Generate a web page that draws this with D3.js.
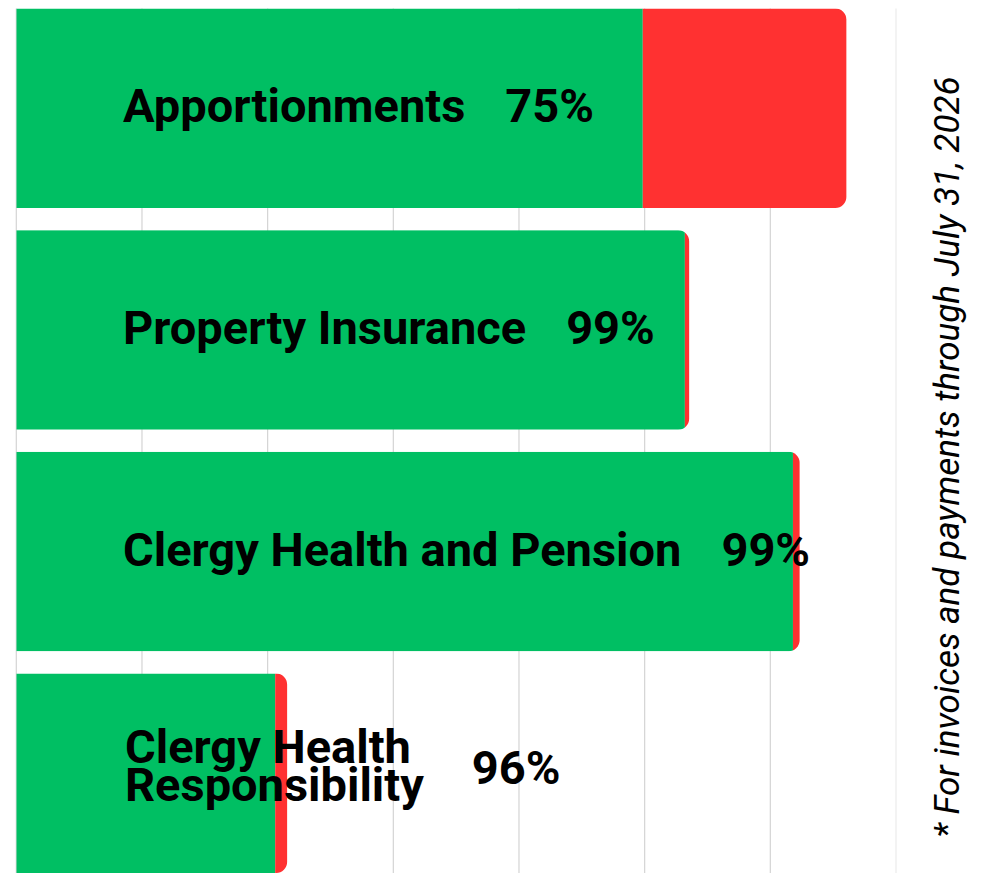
<!DOCTYPE html>
<html>
<head>
<meta charset="utf-8">
<script src="https://cdn.jsdelivr.net/npm/d3@7"></script>
<style>
  body { margin: 0; background: #fff; }
  svg { display: block; font-family: Roboto, sans-serif; }
</style>
</head>
<body>
<script>
// amounts in millions
const categories = ["Apportionments", "Property Insurance", "Clergy Health and Pension", "Clergy Health\nResponsibility"];
const paid = [4.985, 5.32, 6.18, 2.06];
const unpaid = [1.62, 0.034, 0.053, 0.095];
const xTicks = [0, 1, 2, 3, 4, 5, 6, 7];
const footnote = "* For invoices and payments through July 31, 2026";

const w = 989, h = 891;
const svg = d3.select("body").append("svg").attr("width", w).attr("height", h);

const x = d3.scaleLinear().domain([0, 7]).range([16.3, 896]);
const y = d3.scaleBand().domain(categories).range([8.5, 873]).paddingInner(0.1).paddingOuter(0);

// grid
svg.append("g").selectAll("line")
   .data(xTicks)
   .enter().append("line")
   .attr("x1", d => x(d)).attr("x2", d => x(d))
   .attr("y1", 8.5).attr("y2", 873)
   .attr("stroke", d => d === 7 ? "#ebebeb" : "#d4d4d4")
   .attr("stroke-width", 1.2);

const rows = categories.map((c, i) => ({name: c, paid: paid[i], unpaid: unpaid[i], i: i}));

// rounded right end for each whole bar
function barPath(x0, x1, y0, hgt, r) {
  return `M${x0},${y0}H${x1 - r}A${r},${r} 0 0 1 ${x1},${y0 + r}V${y0 + hgt - r}A${r},${r} 0 0 1 ${x1 - r},${y0 + hgt}H${x0}Z`;
}
const defs = svg.append("defs");
rows.forEach(d => {
  defs.append("clipPath").attr("id", "clip" + d.i)
      .append("path")
      .attr("d", barPath(x(0), x(d.paid + d.unpaid), y(d.name), y.bandwidth(), 11));
});

const bars = svg.append("g").selectAll("g")
   .data(rows)
   .enter().append("g")
   .attr("clip-path", d => "url(#clip" + d.i + ")");
bars.append("rect")
   .attr("x", x(0)).attr("y", d => y(d.name))
   .attr("width", d => x(d.paid) - x(0))
   .attr("height", y.bandwidth())
   .attr("fill", "#00bf63");
bars.append("rect")
   .attr("x", d => x(d.paid)).attr("y", d => y(d.name))
   .attr("width", d => x(d.paid + d.unpaid) - x(d.paid) + 1)
   .attr("height", y.bandwidth())
   .attr("fill", "#ff3131");

// labels
const fs = 47;
const lx = 123;
const labels = svg.append("g").selectAll("g")
   .data(rows)
   .enter().append("g");
labels.each(function(d) {
  const g = d3.select(this);
  const lines = d.name.split("\n");
  const multi = lines.length > 1;
  const cy = y(d.name) + y.bandwidth() / 2;
  const lh = 38;
  const t = g.append("text")
     .attr("font-size", fs).attr("font-weight", 700).attr("fill", "#000");
  lines.forEach((ln, k) => {
    t.append("tspan").attr("x", lx + (multi ? 2 : 0))
     .attr("y", cy + 14 + (k - (lines.length - 1) / 2) * lh - (multi ? 5 : 0))
     .text(ln);
  });
  const tw = d3.max(t.selectAll("tspan").nodes(), n => n.getComputedTextLength());
  g.append("text")
   .attr("x", lx + tw + (multi ? 50 : 40))
   .attr("y", cy + (multi ? 11 : 14))
   .attr("font-size", fs).attr("font-weight", 700).attr("fill", "#000")
   .text(Math.round(d.paid / (d.paid + d.unpaid) * 100) + "%");
});

// footnote
svg.append("text")
   .attr("transform", "translate(959,457) rotate(-90)")
   .attr("text-anchor", "middle")
   .attr("font-size", 35).attr("font-style", "italic").attr("fill", "#000")
   .text(footnote);
</script>
</body>
</html>
